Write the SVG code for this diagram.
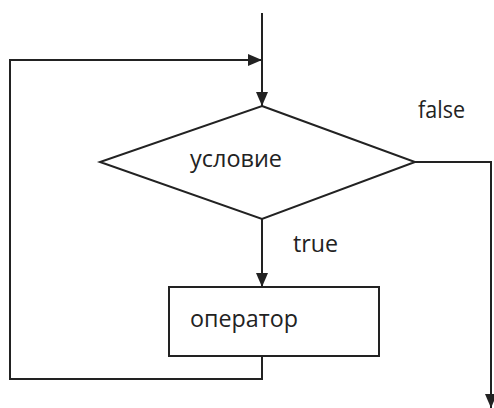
<svg xmlns="http://www.w3.org/2000/svg" width="494" height="408" viewBox="0 0 494 408">
<defs>
<style>
.ln{fill:none;stroke:#222;stroke-width:2}
.sh{fill:#fff;stroke:#222;stroke-width:2}
.t{font-family:"Open Sans","Liberation Sans",sans-serif;font-size:23px;fill:#222}
</style>
<marker id="ah" markerWidth="14" markerHeight="12" viewBox="0 0 14 12" refX="14" refY="6" orient="auto" markerUnits="userSpaceOnUse">
<path d="M0,0 L14,6 L0,12 Z" fill="#222"/>
</marker>
</defs>
<rect width="494" height="408" fill="#fff"/>
<g id="connectors">
<path class="ln" d="M262,13 L262,106" marker-end="url(#ah)"/>
<path class="ln" d="M262,356 L262,379 L10,379 L10,60 L262,60" marker-end="url(#ah)"/>
<path class="ln" d="M262,219 L262,287" marker-end="url(#ah)"/>
<path class="ln" d="M415,162 L491,162 L491,408" marker-end="url(#ah)"/>
</g>
<g id="condition">
<polygon class="sh" points="262,106 415,162 262,219 100,162"/>
<text class="t" x="190" y="167" textLength="92" lengthAdjust="spacingAndGlyphs">условие</text>
</g>
<g id="operator">
<rect class="sh" x="169" y="287" width="210" height="69"/>
<text class="t" x="190" y="327" textLength="108" lengthAdjust="spacingAndGlyphs">оператор</text>
</g>
<g id="labels">
<text class="t" x="418" y="118" textLength="47" lengthAdjust="spacingAndGlyphs">false</text>
<text class="t" x="293" y="252" textLength="45" lengthAdjust="spacingAndGlyphs">true</text>
</g>
</svg>
